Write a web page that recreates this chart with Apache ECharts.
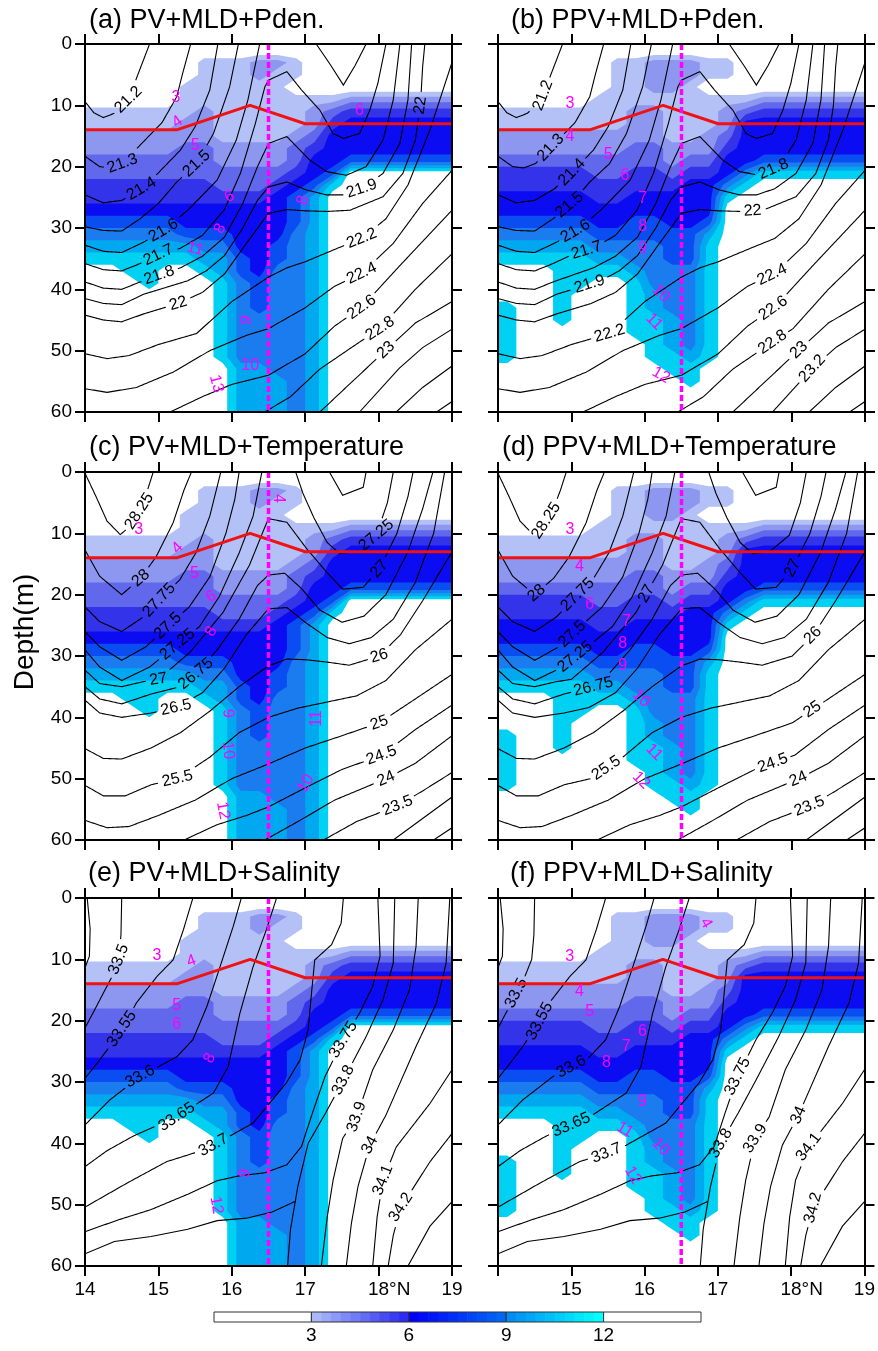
<!DOCTYPE html>
<html>
<head>
<meta charset="utf-8">
<script src="https://cdn.jsdelivr.net/npm/echarts@6/dist/echarts.min.js"></script>
<style>
html,body{margin:0;padding:0;background:#fff}
#chart{width:878px;height:1351px}
</style>
</head>
<body>
<div id="chart"></div>
<script>
// ---------- data ----------
// cell centres of the gridded PV / PPV sections (0.25 deg x 2 m)
var cellLat = [14.125,14.375,14.625,14.875,15.125,15.375,15.625,15.875,16.125,16.375,
               16.625,16.875,17.125,17.375,17.625,17.875,18.125,18.375,18.625,18.875];
var cellDepth = [1,3,5,7,9,11,13,15,17,19,21,23,25,27,29,31,33,35,37,39,41,43,45,47,49,51,53,55,57,59];

// one string per latitude column, surface -> 60 m, PV class per cell (hex digit; 0 = below 3, c = 12 and above)
var pvCols = [
  "0000033445566789abcccccccccccc",
  "0000033445566789abcccccccccccc",
  "0000033445566789abbccccccccccc",
  "0000033445566789abbbcccccccccc",
  "0000033445566789abcccccccccccc",
  "0003334455566778abcccccccccccc",
  "03333444555667789abccccccccccc",
  "03333333445567789aabbbbbbbcccc",
  "03333333445567777889999999aaaa",
  "04433333445567777778889999aaaa",
  "043333334456777788999999999aaa",
  "033033345567888999999999999999",
  "000034456778aaaaaaaaaaaaaaaaaa",
  "00003567778bcccccccccccccccccc",
  "0000467778cccccccccccccccccccc",
  "0000467778cccccccccccccccccccc",
  "0000467778cccccccccccccccccccc",
  "0000467778cccccccccccccccccccc",
  "0000467778cccccccccccccccccccc",
  "0000467778cccccccccccccccccccc"
];
var ppvCols = [
  "0000033445667789abcccbbbbbcccc",
  "0000033445667789abcccccccccccc",
  "0000033445667789abcccccccccccc",
  "0000033445667789abbbbbbccccccc",
  "0000033445667789abbbcccccccccc",
  "00003334455667789abccccccccccc",
  "03333334455667789abccccccccccc",
  "033334445566778899abbbbbcccccc",
  "04443444556677889999aabbbbcccc",
  "0444333344567778889999aaabbccc",
  "0443333345677778889999999abbcc",
  "033033344567778abbbbbbbbbbcccc",
  "033034456779bccccccccccccccccc",
  "00003577779bcccccccccccccccccc",
  "0000467778bccccccccccccccccccc",
  "0000467778bccccccccccccccccccc",
  "0000467778bccccccccccccccccccc",
  "0000467778bccccccccccccccccccc",
  "0000467778bccccccccccccccccccc",
  "0000467778bccccccccccccccccccc"
];
// filled contour levels and their colours (the last level, 12, is drawn white)
var pvLevels = [3,4,5,6,7,8,9,10,11,12];
var pvColors = ['#b3c1f6','#8e97f0','#6168ec','#3333ea','#0c0cf2','#0a4ef2','#1a7cee','#00a8f0','#00d0f2','#ffffff'];

// mixed layer depth and section marker
var mldLine = [[14,14],[15.25,14],[16.25,10],[17,13],[19,13]];
var sectionLine = [[16.5,0],[16.5,60]];

// contour lines: [level, [[lat, depth], ...]]
var pdenLines = [
  [21.2,[[14.0,9.4],[14.12,11.2],[14.25,12],[14.4,11.3],[14.59,9.1],[14.72,5],[14.88,0]]],
  [21.3,[[14.0,18.3],[14.2,20],[14.35,20.2],[14.51,19.5],[14.75,16.5],[15.05,12.8],[15.25,8.6],[15.33,4.8],[15.44,0]]],
  [21.4,[[14.0,24.6],[14.25,25.9],[14.5,25.5],[14.77,23.6],[15.0,21],[15.3,17.3],[15.5,13.5],[15.7,7.5],[15.81,0]]],
  [21.5,[[14.0,29.8],[14.25,30.4],[14.5,30.5],[14.75,28.5],[15.0,26],[15.25,22.5],[15.52,19.5],[15.75,14.6],[15.97,7],[16.09,0]]],
  [21.6,[[14.0,32.8],[14.25,33.8],[14.5,34],[14.8,32.3],[15.07,30.4],[15.4,27.1],[15.8,22.2],[16.06,15.7],[16.22,9.1],[16.38,0]]],
  [21.6,[[17.15,0],[17.35,3.5],[17.52,6.7],[17.68,3.5],[17.83,0]]],
  [21.7,[[14.0,35.8],[14.25,36.8],[14.5,37],[14.75,35.8],[15.0,34.4],[15.3,33.3],[15.6,31.2],[15.9,27],[16.12,21],[16.32,13],[16.45,7],[16.5,5.9],[16.75,4.5],[16.95,7.5],[17.2,10.8],[17.38,14.6],[17.52,15.4],[17.74,14.6],[17.88,10.8],[17.99,6.4],[18.1,0]]],
  [21.8,[[14.0,38.8],[14.25,39.8],[14.5,40],[14.75,38.8],[15.01,37.7],[15.3,36.5],[15.6,34.6],[15.9,31.5],[16.15,26],[16.35,20],[16.5,16.2],[16.75,15.1],[17.06,18.9],[17.29,20.8],[17.56,21.4],[17.83,20],[18.06,15.7],[18.2,9.1],[18.29,0]]],
  [21.9,[[14.0,41.5],[14.25,42.3],[14.5,42.5],[14.8,40.8],[15.1,39.7],[15.4,38.6],[15.65,37],[15.9,34.5],[16.15,30],[16.35,25.5],[16.5,23.3],[16.75,22.5],[17.02,23.8],[17.29,24.6],[17.52,24.6],[17.77,23.6],[18.06,21.1],[18.29,16.2],[18.4,9.1],[18.45,0]]],
  [22,[[14.0,44.2],[14.25,45],[14.5,45.3],[14.8,44],[15.27,42.3],[15.6,40.5],[15.9,37.5],[16.2,32.5],[16.5,27.6],[16.75,27],[17.0,27.2],[17.3,27.3],[17.61,27.1],[18.06,24.9],[18.33,21.1],[18.5,15.7],[18.57,10],[18.6,3.7],[18.63,0]]],
  [22.2,[[14.0,50.5],[14.3,51.3],[14.6,50.8],[15.0,49],[15.52,47.2],[16.0,42],[16.5,38],[16.75,36.5],[17.0,35.5],[17.4,33.5],[17.77,31.7],[18.1,28.5],[18.4,23],[18.7,14],[19.0,3]]],
  [22.4,[[14.0,56.2],[14.3,56.8],[14.7,56],[15.2,53.5],[15.7,50],[16.2,47.5],[16.5,46.4],[17.0,43],[17.4,39.5],[17.77,37.4],[18.2,32.5],[18.6,26],[19.0,20.6]]],
  [22.6,[[15.16,60],[15.6,57.5],[16.0,55.5],[16.5,54],[17.0,50.5],[17.4,46],[17.77,42.9],[18.3,36],[19.0,27.1]]],
  [22.8,[[16.45,60],[16.8,57.5],[17.2,53],[17.74,48.6],[18.02,46.4],[18.5,40],[19.0,34.2]]],
  [23,[[17.2,60],[17.6,55.5],[18.1,49.9],[18.5,45.5],[19.0,42]]],
  [23.2,[[17.74,60],[18.28,52.9],[18.6,49.5],[19.0,46.5]]],
  [23.4,[[18.24,60],[18.6,56],[19.0,52.5]]],
  [23.6,[[18.79,60],[19.0,58.3]]]
];
var tempLines = [
  [28.25,[[14.0,0.2],[14.15,4],[14.3,8],[14.48,10.2],[14.6,9],[14.74,6.4],[14.85,3],[14.93,0]]],
  [28,[[14.0,12.7],[14.2,17],[14.5,20],[14.76,17.3],[14.97,13.8],[15.2,8.3],[15.35,2.9],[15.45,0]]],
  [27.75,[[14.0,22],[14.2,24.4],[14.5,26],[14.8,23.6],[15.01,20.9],[15.29,17.6],[15.51,13.2],[15.7,7.2],[15.85,0]]],
  [27.5,[[14.0,26],[14.2,28.5],[14.5,30.7],[14.83,28.5],[15.13,25.1],[15.42,22],[15.7,17.1],[15.92,10],[16.04,4.5],[16.1,0]]],
  [27.25,[[14.0,29],[14.2,31.8],[14.5,34],[14.88,31.8],[15.26,28.1],[15.56,25.2],[15.83,20.3],[16.1,13.2],[16.29,7.2],[16.41,0]]],
  [27.25,[[16.87,0],[16.97,3.5],[17.12,7.5],[17.3,11.5],[17.47,13.3],[17.7,13],[17.97,10.3],[18.12,5],[18.2,0]]],
  [27.5,[[17.33,0],[17.51,3.8],[17.79,2.5],[17.83,0]]],
  [27,[[14.0,32.3],[14.2,34.5],[14.5,35],[14.79,34.2],[15.0,33.8],[15.43,29.4],[15.88,22.9],[16.24,15.2],[16.45,9],[16.5,7.6],[16.75,8.2],[17.02,12.5],[17.29,16.3],[17.51,19.1],[17.79,18.8],[18.01,15.8],[18.25,10],[18.4,4],[18.47,0]]],
  [26.75,[[14.0,35],[14.2,37],[14.5,37.8],[14.9,36.2],[15.3,35],[15.51,32.9],[15.8,29],[16.1,24],[16.35,18.5],[16.5,16.8],[16.72,16.5],[16.95,19],[17.2,22.5],[17.5,24.5],[17.8,23.5],[18.1,20],[18.4,13],[18.6,6],[18.74,0]]],
  [26.5,[[14.0,37.2],[14.2,39.3],[14.5,40],[14.9,39.3],[15.24,38.4],[15.6,36],[15.9,32],[16.2,26.5],[16.5,22.3],[16.75,22.1],[17.0,24.5],[17.3,27],[17.6,28],[17.9,27],[18.2,24],[18.5,18],[18.75,10],[18.9,0]]],
  [26,[[14.0,45.1],[14.25,46.7],[14.5,46.8],[14.9,45],[15.3,42.5],[15.7,39],[16.1,35],[16.5,31.6],[16.75,30.5],[17.0,30.6],[17.3,31],[17.6,31.5],[18.01,30],[18.3,26.5],[18.6,21],[19.0,13]]],
  [25.5,[[14.0,51.1],[14.25,52.8],[14.55,52.8],[14.9,51],[15.26,50],[15.7,46.5],[16.1,42.5],[16.5,40],[16.9,38.5],[17.3,37.5],[17.7,36.5],[18.1,34],[18.5,29],[19.0,24]]],
  [25,[[14.0,56.8],[14.3,58],[14.6,57.8],[15.0,56],[15.5,53.5],[16.0,50],[16.5,47.6],[17.0,45],[17.5,43],[18.01,40.9],[18.5,37],[19.0,33]]],
  [24.5,[[15.35,60],[15.8,57.5],[16.2,56],[16.5,54.6],[17.0,51.5],[17.5,48.5],[18.04,46.2],[18.5,42],[19.0,38]]],
  [24,[[16.45,60],[16.9,57],[17.4,53.5],[18.1,50],[18.5,47.5],[19.0,43]]],
  [23.5,[[17.25,60],[17.7,57],[18.26,54.4],[18.6,52],[19.0,49]]],
  [23,[[18.2,60],[18.6,56.5],[19.0,53]]],
  [22.5,[[18.75,60],[19.0,58]]]
];
var saltLines = [
  [33.45,[[14.03,0],[14.07,5],[14.06,9.5],[14.0,11.4]]],
  [33.5,[[14.5,0],[14.49,6],[14.46,10],[14.36,13],[14.25,15.5],[14.12,18.5],[14.0,21.2]]],
  [33.55,[[15.47,0],[15.34,5.2],[15.2,10.1],[14.98,12.8],[14.7,17.1],[14.55,20.5],[14.35,24],[14.2,26.4],[14.0,29.4]]],
  [33.6,[[16.13,0],[16.02,4.6],[15.84,11.2],[15.66,17.7],[15.47,23.1],[15.25,25.9],[15.0,27.5],[14.75,29.1],[14.34,32.9],[14.0,37]]],
  [33.65,[[16.61,0],[16.47,5.2],[16.29,11.2],[16.11,18.8],[16.02,23.7],[15.95,27.5],[15.75,31.8],[15.25,35.7],[15.0,37],[14.66,38.8],[14.3,41.2],[14.0,43.8]]],
  [33.7,[[17.52,0],[17.49,4.1],[17.36,7.6],[17.13,10.1],[17.09,15],[17.04,21.5],[16.93,26.4],[16.74,30.2],[16.29,36.7],[15.75,40.3],[15.48,41.6],[15.11,43],[14.57,46.5],[14.0,50.4]]],
  [33.75,[[17.99,0],[18.02,9.5],[17.92,14.4],[17.74,18.8],[17.52,23.1],[17.27,29.1],[17.1,35],[16.95,40.5],[16.75,43.5],[16.45,44.8],[16.1,45.3],[15.8,46.1],[15.4,48.3],[14.9,50.8],[14.45,52.5],[14.0,54.4]]],
  [33.8,[[18.22,0],[18.2,10.6],[18.06,16.6],[17.83,22.6],[17.52,29.7],[17.28,35],[17.04,40],[16.9,47],[16.8,54],[16.76,60]]],
  [33.8,[[14.0,58],[14.4,56],[14.9,55.2],[15.4,54],[15.8,52.6],[16.2,52.2],[16.55,51.2],[16.86,49.5]]],
  [33.9,[[18.54,0],[18.51,7.9],[18.42,15],[18.2,21.5],[17.92,28],[17.7,35.7],[17.51,39.2],[17.38,46],[17.3,52],[17.22,60]]],
  [34,[[18.97,0],[18.92,10.6],[18.79,17.1],[18.51,24.2],[18.1,35.4],[17.88,40.3],[17.72,47],[17.63,53],[17.56,60]]],
  [34.1,[[19.0,28],[18.7,33.5],[18.24,40.6],[18.06,46],[17.98,52],[17.92,60]]],
  [34.2,[[19.0,38.4],[18.7,43],[18.3,50.5],[18.2,55],[18.13,60]]],
  [34.3,[[19.0,49.5],[18.7,53.5],[18.4,60]]]
];

// contour labels per panel: [lat, depth, level]
var pdenLabelsA = [[14.59,9.1,21.2],[14.51,19.5,21.3],[14.77,23.6,21.4],[15.52,19.5,21.5],[15.07,30.4,21.6],
  [15.0,34.4,21.7],[15.01,37.7,21.8],[15.27,42.3,22],[17.77,23.6,21.9],[18.57,10,22],[17.77,31.7,22.2],
  [17.77,37.4,22.4],[17.77,42.9,22.6],[18.02,46.4,22.8],[18.1,49.9,23]];
var pdenLabelsB = [[14.66,8.6,21.2],[14.71,16.8,21.3],[14.98,20.6,21.4],[14.98,26.3,21.5],[15.05,30.4,21.6],
  [15.2,33.4,21.7],[15.25,39.3,21.9],[15.52,47.2,22.2],[17.74,20,21.8],[17.47,27.6,22],[17.74,37.7,22.4],
  [17.74,42.9,22.6],[17.74,48.6,22.8],[18.1,49.9,23],[18.28,52.9,23.2]];
var tempLabelsC = [[14.74,6.4,28.25],[14.76,17.3,28],[15.01,20.9,27.75],[15.13,25.1,27.5],[15.26,28.1,27.25],
  [15.0,33.8,27],[15.51,32.9,26.75],[15.24,38.4,26.5],[15.26,50,25.5],[17.97,10.3,27.25],[18.01,15.8,27],
  [18.01,30,26],[18.01,40.9,25],[18.04,46.2,24.5],[18.1,50,24],[18.26,54.4,23.5]];
var tempLabelsD = [[14.64,7.8,28.25],[14.53,19.8,28],[15.07,19.8,27.75],[15.0,26.3,27.5],[15.05,30.1,27.25],
  [15.3,35,26.75],[15.5,48.7,25.5],[16.09,20.3,27],[18.01,15.7,27],[18.26,26.3,26],[18.26,38.3,25],
  [17.74,47.3,24.5],[18.1,50.3,24],[18.24,54.4,23.5]];
var saltLabelsE = [[14.48,10.1,33.5],[14.52,21.5,33.55],[14.75,29.1,33.6],[15.25,35.7,33.65],[15.75,40.3,33.7],
  [17.52,23.1,33.75],[17.52,29.7,33.8],[17.7,35.7,33.9],[17.88,40.3,34],[18.06,46,34.1],[18.33,50.6,34.2]];
var saltLabelsF = [[14.25,15.5,33.5],[14.62,20.4,33.55],[15.0,27.5,33.6],[15.0,37,33.65],[15.48,41.6,33.7],
  [17.27,29.1,33.75],[17.04,40,33.8],[17.51,39.2,33.9],[18.1,35.4,34],[18.24,40.6,34.1],[18.26,50.4,34.2]];

// PV / PPV contour values written in magenta: [lat, depth, text, rotation deg]
var pvLabelsA = [[15.24,8.7,'3',0],[15.26,12.7,'4',35],[15.5,16.5,'5',0],[15.97,24.9,'6',30],[15.84,30.1,'8',60],
  [15.5,33.4,'11',-15],[16.2,45,'9',80],[16.25,52.4,'10',0],[15.79,55.4,'13',-75],[17.74,10.8,'6',0],[16.97,25.5,'8',70]];
var pvLabelsC = [[14.73,9.4,'3',0],[15.26,12.4,'4',45],[15.49,16.5,'5',0],[15.72,20.3,'6',30],[15.72,26,'8',60],
  [15.95,39.4,'9',-85],[15.95,45.4,'10',-85],[15.88,55.2,'12',-80],[16.63,4.3,'4',-90],[17.15,40.2,'11',90],[17.01,50.8,'10',60]];
var pvLabelsE = [[14.98,9.4,'3',0],[15.45,10.3,'4',20],[15.25,17.6,'5',0],[15.25,20.7,'6',0],[15.7,26.1,'8',60],
  [16.18,44.9,'9',80],[15.79,50.1,'12',-80]];
var ppvLabelsB = [[14.98,9.7,'3',0],[14.98,15.1,'4',0],[15.5,18.1,'5',0],[15.73,21.4,'6',0],[15.97,25.2,'7',0],
  [15.97,29.8,'8',0],[15.97,33.4,'9',0],[16.22,40.7,'10',-45],[16.13,45.3,'11',-45],[16.22,54,'12',-30]];
var ppvLabelsD = [[14.98,9.4,'3',0],[15.11,15.4,'4',0],[15.25,21.7,'6',0],[15.75,24.4,'7',0],[15.7,28,'8',0],
  [15.7,31.5,'9',0],[15.95,36.9,'10',-45],[16.13,45.7,'11',-45],[15.95,50.3,'12',-45]];
var ppvLabelsF = [[14.98,9.5,'3',0],[15.11,15.2,'4',0],[15.25,18.5,'5',0],[15.97,21.8,'6',0],[15.75,24.2,'7',0],
  [15.48,26.9,'8',0],[15.97,33.2,'9',0],[15.73,37.8,'11',-30],[16.22,40.6,'10',-45],[15.84,45.2,'12',-60],[16.84,4.1,'4',-60]];

// colour bar
var cbEdges = [0,3,6,9,12,15];
var cbTicks = [3,6,9,12];
var cbColors = [['#ffffff','#ffffff'],['#a9b9fa','#2c2cf4'],['#0000ff','#0066f6'],['#008ef6','#00ffff'],['#ffffff','#ffffff']];

// ---------- layout ----------
var FONT = '"Liberation Sans", Arial, Helvetica, sans-serif';
var panelW = 367, panelH = 368;
var cbSteps = 10;
var panels = [
  {name:'(a) PV+MLD+Pden.',        left:85,  top:44,  tx:89,  ty:21,  cols:pvCols,  lines:pdenLines, lab:pdenLabelsA, pv:pvLabelsA},
  {name:'(b) PPV+MLD+Pden.',       left:498, top:44,  tx:511, ty:21,  cols:ppvCols, lines:pdenLines, lab:pdenLabelsB, pv:ppvLabelsB},
  {name:'(c) PV+MLD+Temperature',  left:85,  top:472, tx:89,  ty:448, cols:pvCols,  lines:tempLines, lab:tempLabelsC, pv:pvLabelsC},
  {name:'(d) PPV+MLD+Temperature', left:498, top:472, tx:502, ty:448, cols:ppvCols, lines:tempLines, lab:tempLabelsD, pv:ppvLabelsD},
  {name:'(e) PV+MLD+Salinity',     left:85,  top:898, tx:88,  ty:874, cols:pvCols,  lines:saltLines, lab:saltLabelsE, pv:pvLabelsE},
  {name:'(f) PPV+MLD+Salinity',    left:498, top:898, tx:510, ty:874, cols:ppvCols, lines:saltLines, lab:saltLabelsF, pv:ppvLabelsF}
];

var measureCtx = document.createElement('canvas').getContext('2d');
function textWidth(t, font) { measureCtx.font = font; return measureCtx.measureText(t).width; }

// class code -> representative PV value (middle of its class)
function classValue(ch) {
  var v = parseInt(ch, 16);
  if (v < 3) return 2;
  return v + 0.5;
}

// node grid padded to the section edges
var nodeLat = [14].concat(cellLat, [19]);
var nodeDepth = [0].concat(cellDepth, [60]);
function nodeValues(cols) {
  var out = [];
  for (var i = 0; i < nodeLat.length; i++) {
    var ci = Math.max(0, Math.min(cols.length - 1, i - 1));
    var row = [];
    for (var j = 0; j < nodeDepth.length; j++) {
      var cj = Math.max(0, Math.min(cols[ci].length - 1, j - 1));
      row.push(classValue(cols[ci].charAt(cj)));
    }
    out.push(row);
  }
  return out;
}

// filled contours: one path per level, traced cell by cell (marching squares)
function fieldSeries(g, cols) {
  var V = nodeValues(cols);
  return {
    type: 'custom', xAxisIndex: 2 * g, yAxisIndex: 2 * g, z: 1, silent: true, clip: true,
    encode: {x: 0, y: 1},
    data: pvLevels.map(function (L, k) { return [14, 0, k]; }),
    renderItem: function (params, api) {
      var k = api.value(2), L = pvLevels[k];
      var P = [];
      for (var i = 0; i < nodeLat.length; i++) {
        P.push([]);
        for (var j = 0; j < nodeDepth.length; j++) P[i].push(api.coord([nodeLat[i], nodeDepth[j]]));
      }
      var d = [];
      for (var i2 = 0; i2 < nodeLat.length - 1; i2++) {
        for (var j2 = 0; j2 < nodeDepth.length - 1; j2++) {
          var cs = [[i2, j2], [i2 + 1, j2], [i2 + 1, j2 + 1], [i2, j2 + 1]];
          var vs = cs.map(function (c) { return V[c[0]][c[1]]; });
          if (vs[0] < L && vs[1] < L && vs[2] < L && vs[3] < L) continue;
          var poly = [];
          for (var c = 0; c < 4; c++) {
            var a = c, b = (c + 1) % 4;
            var pa = P[cs[a][0]][cs[a][1]], pb = P[cs[b][0]][cs[b][1]];
            var ina = vs[a] >= L, inb = vs[b] >= L;
            if (ina) poly.push(pa);
            if (ina !== inb) {
              var t = (L - vs[a]) / (vs[b] - vs[a]);
              poly.push([pa[0] + t * (pb[0] - pa[0]), pa[1] + t * (pb[1] - pa[1])]);
            }
          }
          if (poly.length < 3) continue;
          d.push('M' + poly.map(function (p) { return p[0].toFixed(2) + ' ' + p[1].toFixed(2); }).join('L') + 'Z');
        }
      }
      if (!d.length) return null;
      return {type: 'path', shape: {pathData: d.join('')}, style: {fill: pvColors[k], stroke: null}};
    }
  };
}

function nearestOnPolyline(pts, q) {
  var best = null;
  for (var k = 0; k < pts.length - 1; k++) {
    var a = pts[k], b = pts[k + 1];
    var dx = b[0] - a[0], dy = b[1] - a[1];
    var L2 = dx * dx + dy * dy || 1;
    var t = ((q[0] - a[0]) * dx + (q[1] - a[1]) * dy) / L2;
    t = Math.max(0, Math.min(1, t));
    var px = a[0] + t * dx, py = a[1] + t * dy;
    var d = Math.sqrt((q[0] - px) * (q[0] - px) + (q[1] - py) * (q[1] - py));
    if (!best || d < best.d) best = {d: d, x: px, y: py, ang: Math.atan2(dy, dx)};
  }
  return best;
}

// split a pixel polyline where labels sit, so the label breaks the line
function cutPolyline(pts, cuts) {
  if (!cuts.length) return [pts];
  var runs = [], cur = [];
  function inside(x, y) {
    for (var k = 0; k < cuts.length; k++) {
      var c = cuts[k], dx = x - c.x, dy = y - c.y;
      var u = dx * c.c + dy * c.s, v = -dx * c.s + dy * c.c;
      if (Math.abs(u) < c.hw && Math.abs(v) < c.hh) return true;
    }
    return false;
  }
  for (var i = 0; i < pts.length - 1; i++) {
    var a = pts[i], b = pts[i + 1];
    var len = Math.sqrt((b[0] - a[0]) * (b[0] - a[0]) + (b[1] - a[1]) * (b[1] - a[1]));
    var n = Math.max(1, Math.ceil(len / 1.5));
    for (var k = (i === 0 ? 0 : 1); k <= n; k++) {
      var x = a[0] + (b[0] - a[0]) * k / n, y = a[1] + (b[1] - a[1]) * k / n;
      if (inside(x, y)) { if (cur.length > 1) runs.push(cur); cur = []; }
      else cur.push([x, y]);
    }
  }
  if (cur.length > 1) runs.push(cur);
  return runs;
}

function contourSeries(g, lines, labels) {
  var font = '16px ' + FONT;
  return {
    type: 'custom', xAxisIndex: 2 * g, yAxisIndex: 2 * g, z: 3, silent: true, clip: true,
    encode: {x: 0, y: 1},
    data: lines.map(function (l, i) { return [l[1][0][0], l[1][0][1], i]; }),
    renderItem: function (params, api) {
      var idx = api.value(2);
      var line = lines[idx];
      var toPx = function (p) { return api.coord(p); };
      var pts = line[1].map(toPx);
      var cuts = [], texts = [];
      labels.forEach(function (lb) {
        if (lb[2] !== line[0]) return;
        var q = api.coord([lb[0], lb[1]]);
        var best = null, bestJ = -1;
        lines.forEach(function (l2, j) {
          if (l2[0] !== line[0]) return;
          var r = nearestOnPolyline(j === idx ? pts : l2[1].map(toPx), q);
          if (!best || r.d < best.d) { best = r; bestJ = j; }
        });
        if (bestJ !== idx) return;
        var ang = best.ang;
        if (ang > Math.PI / 2) ang -= Math.PI;
        if (ang < -Math.PI / 2) ang += Math.PI;
        var txt = String(line[0]);
        var w = textWidth(txt, font);
        cuts.push({x: best.x, y: best.y, c: Math.cos(ang), s: Math.sin(ang), hw: w / 2 + 3, hh: 9});
        texts.push({type: 'text', x: best.x, y: best.y, rotation: -ang,
          style: {text: txt, font: font, fill: '#000', align: 'center', verticalAlign: 'middle'}});
      });
      var children = cutPolyline(pts, cuts).map(function (r) {
        return {type: 'polyline', shape: {points: r}, style: {stroke: '#000', lineWidth: 1.1, fill: null}};
      });
      return {type: 'group', children: children.concat(texts)};
    }
  };
}

function pvLabelSeries(g, labels) {
  return {
    type: 'custom', xAxisIndex: 2 * g, yAxisIndex: 2 * g, z: 7, silent: true, clip: true,
    encode: {x: 0, y: 1},
    data: labels.map(function (l, i) { return [l[0], l[1], i]; }),
    renderItem: function (params, api) {
      var l = labels[api.value(2)];
      var p = api.coord([l[0], l[1]]);
      return {type: 'text', x: p[0], y: p[1], rotation: l[3] * Math.PI / 180,
        style: {text: l[2], font: '16px ' + FONT, fill: '#ff00ff', align: 'center', verticalAlign: 'middle'}};
    }
  };
}

function axisLine() { return {show: true, onZero: false, lineStyle: {color: '#000', width: 2}}; }
function axisTick() { return {show: true, inside: false, length: 10, lineStyle: {color: '#000', width: 2}}; }

var grids = [], xAxes = [], yAxes = [], series = [], graphics = [];

panels.forEach(function (p, g) {
  grids.push({left: p.left, top: p.top, width: panelW, height: panelH});
  var bottomRow = g >= 4, leftCol = g % 2 === 0;
  xAxes.push({type: 'value', gridIndex: g, position: 'bottom', min: 14, max: 19, interval: 1, z: 10,
    axisLine: axisLine(), axisTick: axisTick(), splitLine: {show: false},
    axisLabel: bottomRow ? {show: true, color: '#000', fontSize: 19, fontFamily: FONT, margin: 14,
      formatter: function (v) {
        if (g === 5 && v === 14) return '';
        return v === 18 ? '    18\u00b0N' : String(v);
      }} : {show: false}});
  xAxes.push({type: 'value', gridIndex: g, position: 'top', min: 14, max: 19, interval: 1, z: 10,
    axisLine: axisLine(), axisTick: axisTick(), splitLine: {show: false}, axisLabel: {show: false}});
  yAxes.push({type: 'value', gridIndex: g, position: 'left', min: 0, max: 60, interval: 10, inverse: true, z: 10,
    axisLine: axisLine(), axisTick: axisTick(), splitLine: {show: false},
    axisLabel: leftCol ? {show: true, color: '#000', fontSize: 19, fontFamily: FONT, margin: 13,
      showMinLabel: true, showMaxLabel: true} : {show: false}});
  yAxes.push({type: 'value', gridIndex: g, position: 'right', min: 0, max: 60, interval: 10, inverse: true, z: 10,
    axisLine: axisLine(), axisTick: axisTick(), splitLine: {show: false}, axisLabel: {show: false}});

  series.push(fieldSeries(g, p.cols));
  series.push(contourSeries(g, p.lines, p.lab));
  series.push({type: 'line', xAxisIndex: 2 * g, yAxisIndex: 2 * g, data: mldLine, symbol: 'none', z: 4, silent: true,
    lineStyle: {color: '#f01212', width: 3}});
  series.push({type: 'line', xAxisIndex: 2 * g, yAxisIndex: 2 * g, data: sectionLine, symbol: 'none', z: 5, silent: true,
    lineStyle: {color: '#ff00ff', width: 3.5, type: [6, 3]}});
  series.push(pvLabelSeries(g, p.pv));

  graphics.push({type: 'text', x: p.tx, y: p.ty, z: 20,
    style: {text: p.name, font: '27px ' + FONT, fill: '#000', align: 'left', verticalAlign: 'middle'}});
});

// colour bar grid (each coloured segment shows stepped shades like the original)
grids.push({left: 214, top: 1312, width: 487, height: 10});
xAxes.push({type: 'value', gridIndex: 6, min: 0, max: 15, interval: 3,
  axisLine: {show: false}, axisTick: {show: false}, splitLine: {show: false},
  axisLabel: {show: true, color: '#000', fontSize: 19, fontFamily: FONT, margin: 4,
    formatter: function (v) { return cbTicks.indexOf(v) >= 0 ? String(v) : ''; }}});
yAxes.push({type: 'value', gridIndex: 6, min: 0, max: 1, show: false});
series.push({type: 'custom', xAxisIndex: 12, yAxisIndex: 12, z: 3, silent: true,
  encode: {x: 0},
  data: cbEdges.slice(0, -1).map(function (v, i) { return [v, cbEdges[i + 1], i]; }),
  renderItem: function (params, api) {
    var i = api.value(2);
    var p1 = api.coord([api.value(0), 1]), p2 = api.coord([api.value(1), 0]);
    var c = cbColors[i];
    var w = p2[0] - p1[0], h = p2[1] - p1[1];
    var kids = [];
    for (var s = 0; s < cbSteps; s++) {
      kids.push({type: 'rect', shape: {x: p1[0] + w * s / cbSteps, y: p1[1], width: w / cbSteps + 0.6, height: h},
        style: {fill: echarts.color.lerp(s / (cbSteps - 1), c), stroke: null}});
    }
    kids.push({type: 'rect', shape: {x: p1[0], y: p1[1], width: w, height: h},
      style: {fill: null, stroke: '#333', lineWidth: 1}});
    return {type: 'group', children: kids};
  }});

graphics.push({type: 'text', x: 25, y: 632, rotation: Math.PI / 2, z: 20,
  style: {text: 'Depth(m)', font: '28px ' + FONT, fill: '#000', align: 'center', verticalAlign: 'middle'}});

var chart = echarts.init(document.getElementById('chart'), null, {renderer: 'canvas'});
chart.setOption({
  animation: false,
  backgroundColor: '#ffffff',
  grid: grids,
  xAxis: xAxes,
  yAxis: yAxes,
  graphic: graphics,
  series: series
});
</script>
</body>
</html>
